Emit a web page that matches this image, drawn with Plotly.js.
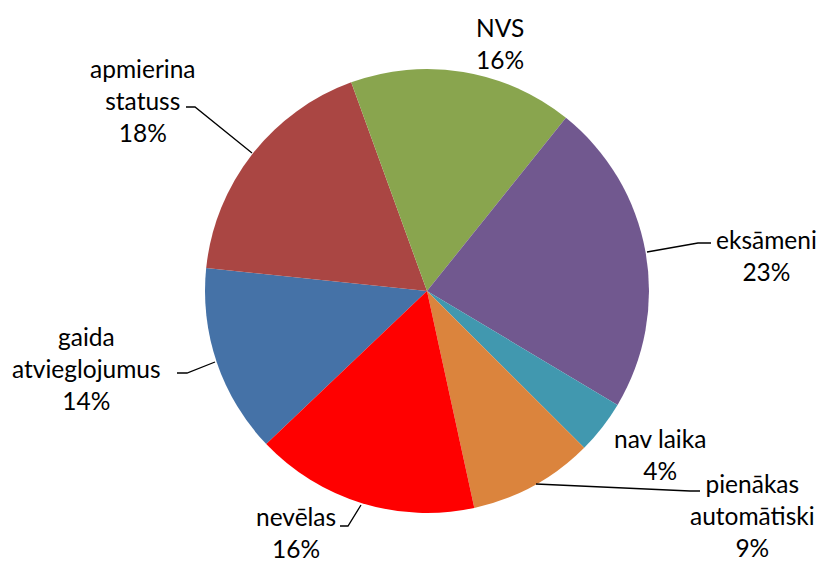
<!DOCTYPE html>
<html>
<head>
<meta charset="utf-8">
<script src="https://cdn.plot.ly/plotly-3.0.1.min.js"></script>
<style>html,body{margin:0;padding:0;background:#fff;}#chart{width:821px;height:563px;}</style>
</head>
<body>
<div id="chart"></div>
<script>
// ---- data ----
const categories = ['gaida atvieglojumus', 'apmierina statuss', 'NVS', 'eksāmeni', 'nav laika', 'pienākas automātiski', 'nevēlas'];
const displayLabels = ['gaida<br>atvieglojumus', 'apmierina<br>statuss', 'NVS', 'eksāmeni', 'nav laika', 'pienākas<br>automātiski', 'nevēlas'];
const values = [13.75, 17.8, 16.3, 22.8, 3.9, 9.1, 16.3];
const colors = ['#4572A7', '#AA4643', '#89A54E', '#71588F', '#4198AF', '#DB843D', '#FF0000'];

// ---- layout helpers ----
const W = 821, H = 563;
const px = x => x / W;
const py = y => 1 - y / H;
const center = [427, 291], R = 222;

// label centres (pixels) and leader polylines (pixels)
const labelPos = [[86, 368], [143, 100], [500, 43], [766, 255], [660, 455], [752, 515], [296, 532]];
const leaders = [
  [[177, 373], [187, 373], [215, 362]],
  [[186, 107], [195, 107], [252, 153]],
  null,
  [[647, 252], [698, 243], [711, 243]],
  null,
  [[536, 484], [690, 491], [700, 491]],
  [[340, 526], [348, 526], [361, 505]]
];

const total = values.reduce((a, b) => a + b, 0);
const font = {family: 'Lato, "Open Sans", sans-serif', size: 24.5, color: '#000'};

const annotations = categories.map((c, i) => ({
  xref: 'paper', yref: 'paper',
  x: px(labelPos[i][0]), y: py(labelPos[i][1]),
  xanchor: 'center', yanchor: 'middle',
  text: displayLabels[i] + '<br>' + Math.round(values[i] / total * 100) + '%',
  showarrow: false, font: font, align: 'center'
}));

const shapes = leaders.filter(l => l).map(l => ({
  type: 'path', xref: 'paper', yref: 'paper',
  path: l.map((p, k) => (k ? 'L' : 'M') + px(p[0]) + ',' + py(p[1])).join(' '),
  line: {color: '#000', width: 1.3}
}));

const trace = {
  type: 'pie',
  labels: categories,
  values: values,
  sort: false,
  direction: 'clockwise',
  rotation: 226.4,
  textinfo: 'none',
  hoverinfo: 'label+percent',
  marker: {colors: colors, line: {width: 0}},
  domain: {x: [px(center[0] - R), px(center[0] + R)], y: [py(center[1] + R), py(center[1] - R)]},
  showlegend: false
};

const layout = {
  width: W, height: H,
  margin: {l: 0, r: 0, t: 0, b: 0},
  paper_bgcolor: '#fff',
  showlegend: false,
  annotations: annotations,
  shapes: shapes
};

Plotly.newPlot('chart', [trace], layout, {displayModeBar: false, staticPlot: true});
</script>
</body>
</html>
